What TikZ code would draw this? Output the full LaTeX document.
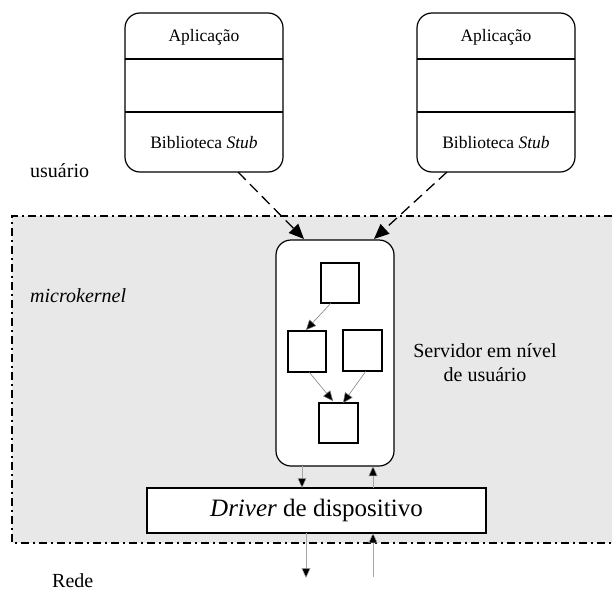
\documentclass[tikz,border=0pt]{standalone}
\usepackage{fontspec}
\setmainfont{Liberation Serif}
\usetikzlibrary{arrows.meta}
\definecolor{kernelgrey}{RGB}{232,232,232}
\tikzset{
  txt/.style={font=\fontsize{17.5}{21}\selectfont, inner sep=0pt},
  lbl/.style={font=\fontsize{20}{24}\selectfont, inner sep=0pt},
  appbox/.style={draw, line width=1.2pt, rounded corners=15pt},
  sq/.style={draw, fill=white, line width=1.2pt},
  thinarrow/.style={draw=black!55, line width=0.5pt, -{Triangle[length=10pt,width=9pt,fill=black]}},
  dasharrow/.style={line width=1.3pt, dash pattern=on 11pt off 6pt, -{Triangle[length=15pt,width=13pt]}},
  bordline/.style={line width=1.2pt, dash pattern=on 8pt off 4pt on 2pt off 4pt},
}
\begin{document}
\begin{tikzpicture}[x=1pt,y=-1pt]
\useasboundingbox (0,0) rectangle (612,597);
% microkernel region
\fill[kernelgrey] (12,216) rectangle (612,543);
\draw[bordline] (612,216) -- (12,216) -- (12,543) -- (612,543);
% application boxes
\foreach \n/\xl in {left/125, right/417}{
  \draw[appbox] (\xl,13) rectangle ++(158,159);
  \draw[line width=1.2pt] (\xl,59) -- ++(158,0);
  \draw[line width=1.2pt] (\xl,112) -- ++(158,0);
  \coordinate (app-\n) at (\xl+79,172);
  \node[txt] (aplic-\n) at (\xl+79,37) {Aplicação};
  \node[txt] (stub-\n) at (\xl+79,143) {Biblioteca \textit{Stub}};
}
\node[lbl, anchor=west] (user) at (30,171) {usuário};
\node[lbl, anchor=west] (mk) at (30,296) {\textit{microkernel}};
\node[lbl, anchor=west] (rede) at (52,581) {Rede};
\node[lbl, align=center] (servlbl) at (485,363) {Servidor em nível\\de usuário};
% user-level server
\node[draw, fill=white, line width=1.2pt, rounded corners=15pt, minimum width=118pt, minimum height=226pt, inner sep=0pt] (server) at (335,353) {};
\node[sq, minimum width=38pt, minimum height=40pt, inner sep=0pt] (s1) at (340,283) {};
\node[sq, minimum width=38pt, minimum height=41pt, inner sep=0pt] (s2) at (307,351.5) {};
\node[sq, minimum width=39pt, minimum height=41pt, inner sep=0pt] (s3) at (362.5,350.5) {};
\node[sq, minimum width=39pt, minimum height=40pt, inner sep=0pt] (s4) at (338.5,423) {};
\draw[thinarrow] (331,303) -- (306,330);
\draw[thinarrow] (309,372) -- (333,401);
\draw[thinarrow] (366,371) -- (343,403);
% stub calls into the kernel
\coordinate (tipL) at (304,239);
\coordinate (tipR) at (374,239);
\draw[dasharrow] (238,172) -- (tipL);
\draw[dasharrow] (447,172) -- (tipR);
% device driver
\node[draw, fill=white, line width=1.2pt, minimum width=339pt, minimum height=45pt, inner sep=0pt, font=\fontsize{25}{29}\selectfont] (driver) at (316.5,510.5) {\textit{Driver} de dispositivo};
\draw[thinarrow, draw=black!35] (302,466) -- (302,488);
\draw[thinarrow, draw=black!35] (373,488) -- (373,466);
\coordinate (netout) at (306,578);
\coordinate (netin) at (373,577);
\draw[thinarrow, draw=black!35] (306,533) -- (netout);
\draw[thinarrow, draw=black!35] (netin) -- (373,533);
\end{tikzpicture}
\end{document}
